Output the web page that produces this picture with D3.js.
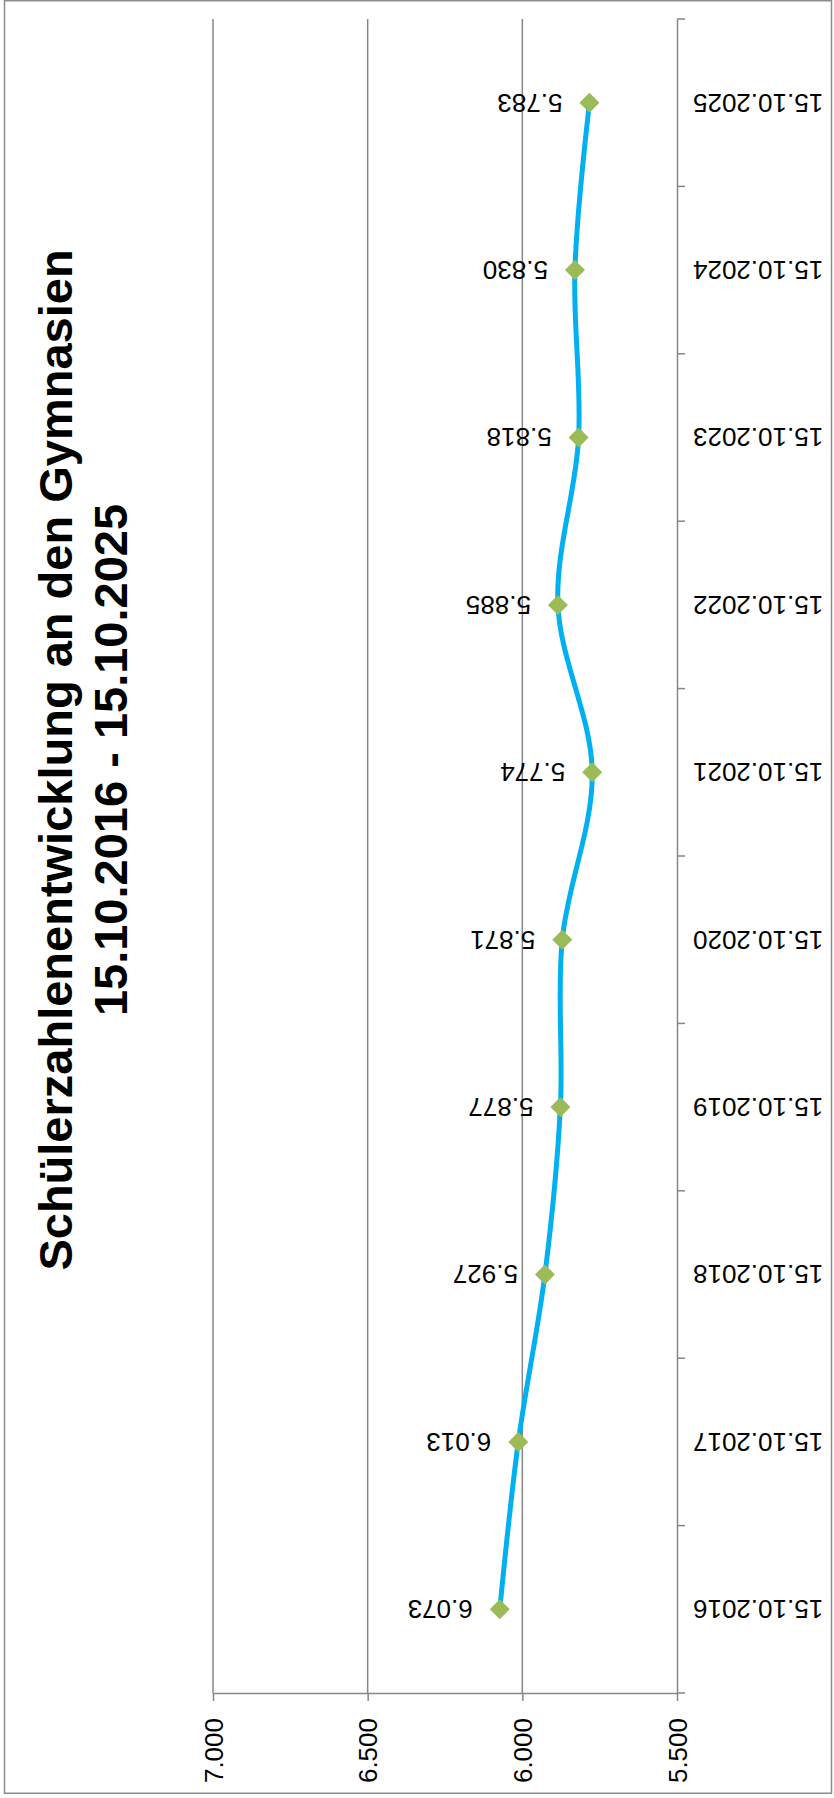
<!DOCTYPE html>
<html>
<head>
<meta charset="utf-8">
<script src="https://cdn.jsdelivr.net/npm/d3@7/dist/d3.min.js"></script>
<style>
  body { margin: 0; background: #fff; }
  svg { display: block; font-family: 'Liberation Sans', Arial, sans-serif; }
</style>
</head>
<body>
<div id="plot"></div>
<script>
'use strict';

const categories = ['15.10.2016', '15.10.2017', '15.10.2018', '15.10.2019', '15.10.2020',
  '15.10.2021', '15.10.2022', '15.10.2023', '15.10.2024', '15.10.2025'];
const values = [6073, 6013, 5927, 5877, 5871, 5774, 5885, 5818, 5830, 5783];
const valueTicks = [7000, 6500, 6000, 5500];
const titleLines = ['Schülerzahlenentwicklung an den Gymnasien', '15.10.2016 - 15.10.2025'];

let col = { line: '#00b0f0', marker: '#9bbb59', grid: '#868686', text: '#000' };

const width = 834;
const height = 1798;
// german number format: 6.073
let fmt = d3.formatLocale({ decimal: ',', thousands: '.', grouping: [3], currency: ['', ' €'] }).format(',d');

let data = categories.map((c, i) => ({ cat: c, value: values[i] }));

let svg = d3.select('#plot').append('svg')
  .attr('width', width)
  .attr('height', height);

// chart border
svg.append('rect')
  .attr('x', 4.5)
  .attr('y', 0.75)
  .attr('width', 827)
  .attr('height', 1792.5)
  .attr('fill', 'none')
  .attr('stroke', '#8c8c8c')
  .attr('stroke-width', 1.5);

// chart is turned on its side: values run left/right, categories bottom->top
let x = d3.scaleLinear()
  .domain([7000, 5500])
  .range([213, 677]);
let y = d3.scaleBand()
  .domain(categories.slice().reverse())
  .range([19, 1693]);

// gridlines
svg.append('g')
  .selectAll('line')
  .data(valueTicks.slice(0, 3))
  .enter()
  .append('line')
  .attr('x1', d => x(d))
  .attr('x2', d => x(d))
  .attr('y1', y.range()[0])
  .attr('y2', y.range()[1])
  .attr('stroke', col.grid)
  .attr('stroke-width', 1.5);

// value axis
let xAxis = svg.append('g')
  .attr('transform', `translate(0, ${y.range()[1]})`)
  .call(d3.axisBottom(x).tickValues(valueTicks).tickFormat(fmt).tickSize(8).tickSizeOuter(0));
xAxis.select('.domain').attr('stroke', col.grid).attr('stroke-width', 1.5);
xAxis.selectAll('.tick line').attr('stroke', col.grid).attr('stroke-width', 1.5);
xAxis.selectAll('.tick text')
  .attr('transform', 'rotate(-90)')
  .attr('x', -25)
  .attr('y', 0)
  .attr('dy', '0.35em')
  .attr('text-anchor', 'end')
  .attr('font-size', '26px')
  .attr('fill', col.text);

// category axis
let yAxis = svg.append('g')
  .attr('transform', `translate(${x(5500)}, 0)`)
  .call(d3.axisRight(y).tickSize(0).tickSizeOuter(0));
yAxis.select('.domain').attr('stroke', col.grid).attr('stroke-width', 1.5);
yAxis.selectAll('.tick text')
  .attr('transform', 'rotate(180)')
  .attr('x', -16)
  .attr('y', 0)
  .attr('dy', '0.35em')
  .attr('text-anchor', 'end')
  .attr('font-size', '26px')
  .attr('fill', col.text);

// tick marks between categories
let bounds = y.domain().map(d => y(d)).concat([y.range()[1]]);
yAxis.append('g')
  .selectAll('line')
  .data(bounds)
  .enter()
  .append('line')
  .attr('x1', 0)
  .attr('x2', 8)
  .attr('y1', d => d)
  .attr('y2', d => d)
  .attr('stroke', col.grid)
  .attr('stroke-width', 1.5);

let cy = d => y(d.cat) + y.bandwidth() / 2;

// smoothed line
let line = d3.line()
  .x(d => x(d.value))
  .y(cy)
  .curve(d3.curveCardinal.tension(0));
svg.append('path')
  .attr('d', line(data))
  .attr('fill', 'none')
  .attr('stroke', col.line)
  .attr('stroke-width', 5)
  .attr('stroke-linejoin', 'round');

// markers
svg.append('g')
  .selectAll('path')
  .data(data)
  .enter()
  .append('path')
  .attr('d', d3.symbol(d3.symbolSquare, 200))
  .attr('transform', d => `translate(${x(d.value)}, ${cy(d)}) rotate(45)`)
  .attr('fill', col.marker);

// data labels
svg.append('g')
  .selectAll('text')
  .data(data)
  .enter()
  .append('text')
  .attr('transform', d => `translate(${x(d.value) - 27}, ${cy(d)}) rotate(180)`)
  .attr('dy', '0.35em')
  .attr('text-anchor', 'start')
  .attr('font-size', '26px')
  .attr('fill', col.text)
  .text(d => fmt(d.value));

// title
svg.append('g')
  .selectAll('text')
  .data(titleLines)
  .enter()
  .append('text')
  .attr('transform', (d, i) => `translate(${72 + i * 55}, 760) rotate(-90)`)
  .attr('text-anchor', 'middle')
  .attr('font-size', '47px')
  .attr('font-weight', 'bold')
  .attr('fill', col.text)
  .text(d => d);
</script>
</body>
</html>
